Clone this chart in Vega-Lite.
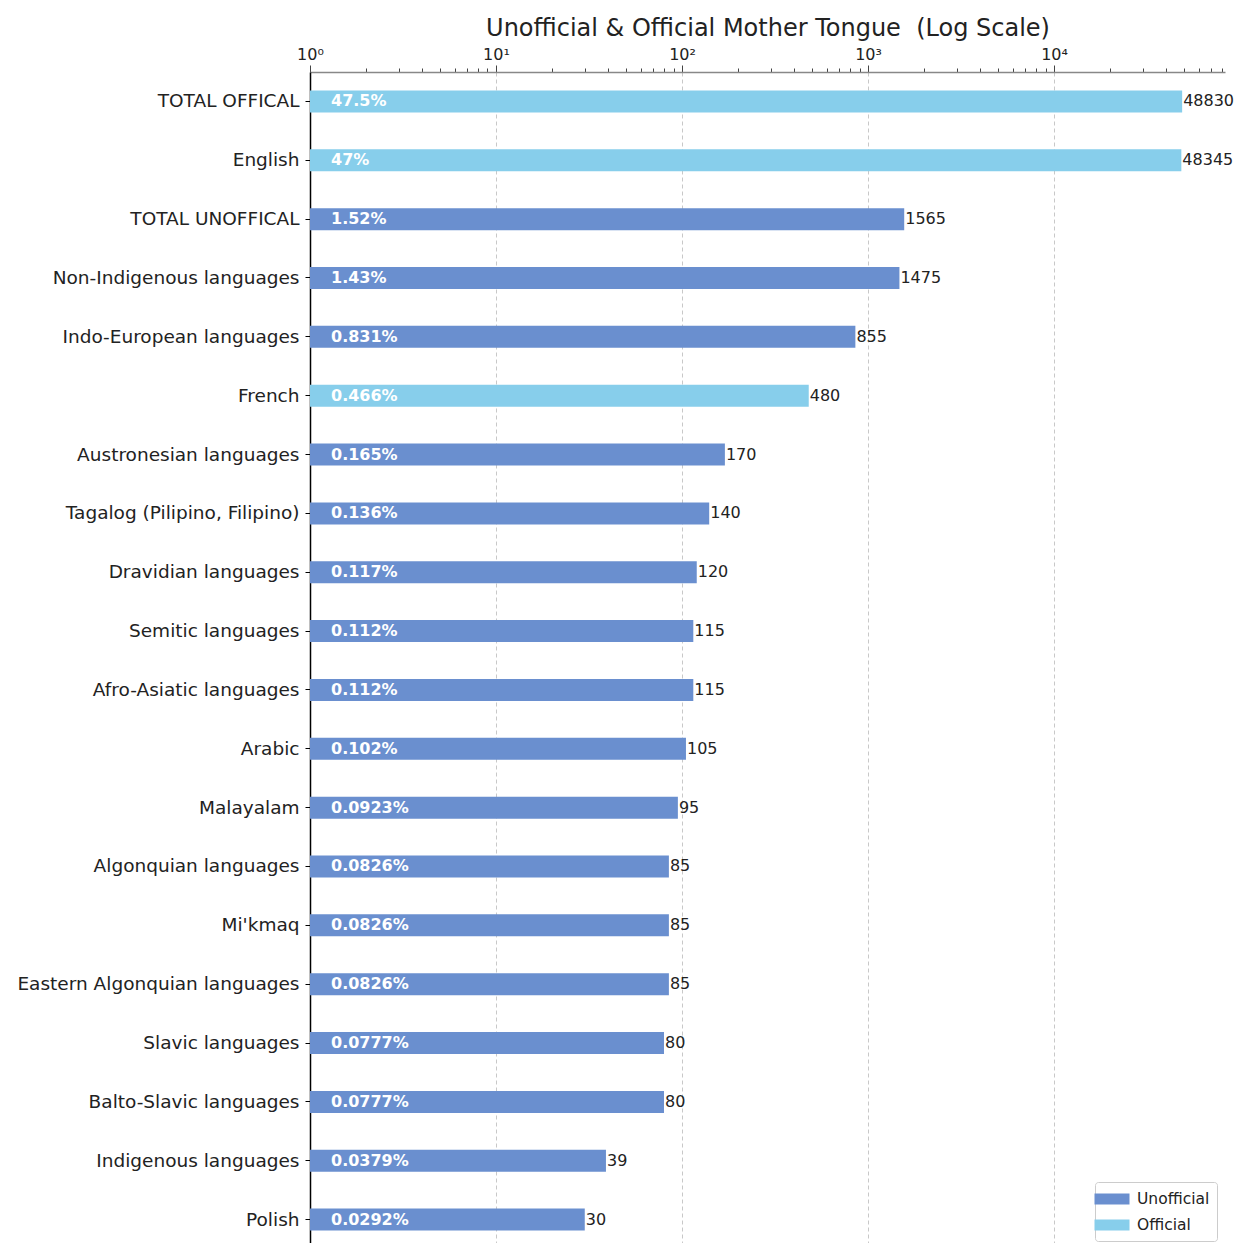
{
  "$schema": "https://vega.github.io/schema/vega-lite/v6.json",
  "autosize": {"type": "none"},
  "padding": {"left": 310, "top": 72, "right": 13, "bottom": 0},
  "width": 915,
  "height": 1177,
  "background": "white",
  "config": {
    "view": {"stroke": null},
    "font": "DejaVu Sans"
  },
  "data": {
    "values": [
      {"language": "TOTAL OFFICAL", "count": 48830, "pct": "47.5%", "type": "Official"},
      {"language": "English", "count": 48345, "pct": "47%", "type": "Official"},
      {"language": "TOTAL UNOFFICAL", "count": 1565, "pct": "1.52%", "type": "Unofficial"},
      {"language": "Non-Indigenous languages", "count": 1475, "pct": "1.43%", "type": "Unofficial"},
      {"language": "Indo-European languages", "count": 855, "pct": "0.831%", "type": "Unofficial"},
      {"language": "French", "count": 480, "pct": "0.466%", "type": "Official"},
      {"language": "Austronesian languages", "count": 170, "pct": "0.165%", "type": "Unofficial"},
      {"language": "Tagalog (Pilipino, Filipino)", "count": 140, "pct": "0.136%", "type": "Unofficial"},
      {"language": "Dravidian languages", "count": 120, "pct": "0.117%", "type": "Unofficial"},
      {"language": "Semitic languages", "count": 115, "pct": "0.112%", "type": "Unofficial"},
      {"language": "Afro-Asiatic languages", "count": 115, "pct": "0.112%", "type": "Unofficial"},
      {"language": "Arabic", "count": 105, "pct": "0.102%", "type": "Unofficial"},
      {"language": "Malayalam", "count": 95, "pct": "0.0923%", "type": "Unofficial"},
      {"language": "Algonquian languages", "count": 85, "pct": "0.0826%", "type": "Unofficial"},
      {"language": "Mi'kmaq", "count": 85, "pct": "0.0826%", "type": "Unofficial"},
      {"language": "Eastern Algonquian languages", "count": 85, "pct": "0.0826%", "type": "Unofficial"},
      {"language": "Slavic languages", "count": 80, "pct": "0.0777%", "type": "Unofficial"},
      {"language": "Balto-Slavic languages", "count": 80, "pct": "0.0777%", "type": "Unofficial"},
      {"language": "Indigenous languages", "count": 39, "pct": "0.0379%", "type": "Unofficial"},
      {"language": "Polish", "count": 30, "pct": "0.0292%", "type": "Unofficial"}
    ]
  },
  "encoding": {
    "y": {
      "field": "language",
      "type": "nominal",
      "sort": null,
      "scale": {"paddingInner": 0, "paddingOuter": 0},
      "axis": {
        "title": null,
        "labelFontSize": 18.5,
        "labelColor": "#222",
        "labelPadding": 6,
        "labelLimit": 400,
        "tickSize": 5,
        "tickColor": "#000",
        "domainColor": "#000",
        "domainWidth": 1.5,
        "grid": false
      }
    }
  },
  "layer": [
    {
      "mark": {"type": "bar", "size": 22},
      "encoding": {
        "x": {
          "field": "count",
          "type": "quantitative",
          "scale": {"type": "log", "domain": [1, 83000], "nice": false},
          "axis": {
            "orient": "top",
            "title": "Unofficial & Official Mother Tongue \u00a0(Log Scale)",
            "titleFontSize": 24,
            "titleFontWeight": "normal",
            "titleColor": "#222",
            "titlePadding": 6,
            "values": [1,2,3,4,5,6,7,8,9,10,20,30,40,50,60,70,80,90,100,200,300,400,500,600,700,800,900,1000,2000,3000,4000,5000,6000,7000,8000,9000,10000,20000,30000,40000,50000,60000,70000,80000],
            "labelExpr": "indexof([1,10,100,1000,10000], datum.value) >= 0 ? '10' + ['⁰','¹','²','³','⁴'][round(log(datum.value)/LN10)] : ''",
            "labelOverlap": false,
            "labelFontSize": 16,
            "labelColor": "#222",
            "labelPadding": 3,
            "labelFlush": false,
            "tickColor": "#444",
            "tickSize": {"condition": {"test": "indexof([1,10,100,1000,10000], datum.value) >= 0", "value": 7}, "value": 4},
            "domainColor": "#888",
            "domainWidth": 1.5,
            "grid": true,
            "gridDash": [4, 3],
            "gridColor": "#c8c8c8",
            "gridOpacity": {"condition": {"test": "indexof([1,10,100,1000,10000], datum.value) >= 0", "value": 1}, "value": 0}
          }
        },
        "x2": {"datum": 1},
        "color": {
          "field": "type",
          "type": "nominal",
          "scale": {"domain": ["Unofficial", "Official"], "range": ["#6a8fcf", "#87ceeb"]},
          "legend": {
            "title": null,
            "orient": "bottom-right",
            "offset": 8,
            "labelFontSize": 15.5,
            "labelColor": "#222",
            "labelOffset": 15,
            "symbolType": "M-1.75,-0.55H1.75V0.55H-1.75Z",
            "symbolSize": 400,
            "symbolStrokeWidth": 0,
            "symbolOpacity": 1,
            "strokeColor": "#cccccc",
            "fillColor": "white",
            "padding": 7,
            "rowPadding": 7,
            "cornerRadius": 3
          }
        }
      }
    },
    {
      "mark": {"type": "text", "align": "left", "baseline": "middle", "dx": 21, "color": "white", "fontWeight": "bold", "fontSize": 16},
      "encoding": {
        "x": {"datum": 1, "type": "quantitative"},
        "text": {"field": "pct"}
      }
    },
    {
      "mark": {"type": "text", "align": "left", "baseline": "middle", "dx": 1, "color": "#222", "fontSize": 16},
      "encoding": {
        "x": {"field": "count", "type": "quantitative"},
        "text": {"field": "count", "format": "d"}
      }
    }
  ]
}
